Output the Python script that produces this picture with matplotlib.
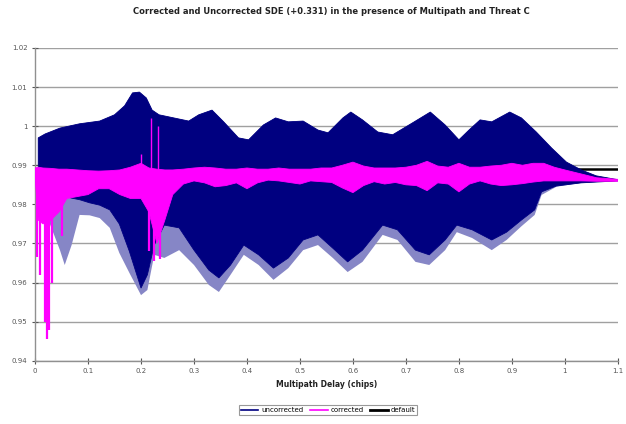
import matplotlib
matplotlib.use("Agg")
import matplotlib.pyplot as plt
import numpy as np

# ------------------------------------------
# data (SDE vs multipath delay)
# ------------------------------------------
upper_x = [0.006, 0.019, 0.047, 0.084, 0.122, 0.15, 0.169, 0.184, 0.197, 0.21, 0.221, 0.234,
           0.262, 0.29, 0.309, 0.334, 0.356, 0.384, 0.403, 0.431, 0.454, 0.478, 0.506, 0.534,
           0.553, 0.581, 0.596, 0.618, 0.647, 0.675, 0.712, 0.746, 0.774, 0.80, 0.819, 0.84,
           0.862, 0.896, 0.918, 0.946, 0.975, 1.003, 1.031, 1.059, 1.1]
uncorr_upper = [0.997, 0.998, 0.9995, 1.0006, 1.0013, 1.0029, 1.0052, 1.0085, 1.0087, 1.0072,
                1.0041, 1.0029, 1.0021, 1.0013, 1.0029, 1.0041, 1.0011, 0.997, 0.9965, 1.0003,
                1.0021, 1.0011, 1.0013, 0.999, 0.9983, 1.0021, 1.0036, 1.0016, 0.9985, 0.9978,
                1.0008, 1.0036, 1.0003, 0.9965, 0.999, 1.0016, 1.0011, 1.0036, 1.0021, 0.9985,
                0.9944, 0.9908, 0.9888, 0.9873, 0.9863]

lower_x = [0.006, 0.028, 0.047, 0.056, 0.069, 0.084, 0.103, 0.122, 0.141, 0.159, 0.178, 0.2,
           0.212, 0.225, 0.244, 0.272, 0.3, 0.328, 0.347, 0.369, 0.394, 0.422, 0.45, 0.478,
           0.506, 0.534, 0.562, 0.59, 0.618, 0.656, 0.684, 0.718, 0.744, 0.774, 0.796, 0.825,
           0.862, 0.89, 0.918, 0.943, 0.956, 0.984, 1.031, 1.1]
uncorr_lower = [0.9888, 0.9837, 0.9826, 0.9822, 0.9816, 0.9812, 0.9804, 0.9798, 0.9786, 0.975,
                0.968, 0.9586, 0.962, 0.9696, 0.9747, 0.974, 0.9683, 0.9632, 0.9612, 0.9645,
                0.9696, 0.9671, 0.9637, 0.9663, 0.9709, 0.9722, 0.9688, 0.9653, 0.9683, 0.9747,
                0.9735, 0.9683, 0.9671, 0.9709, 0.9747, 0.9735, 0.9709, 0.9729, 0.976, 0.9786,
                0.9832, 0.9847, 0.9855, 0.986]
uncorr_streaks = [0.9883, 0.975, 0.9683, 0.9645, 0.9696, 0.9773, 0.9772, 0.9765, 0.974, 0.9676,
                  0.9625, 0.9568, 0.9581, 0.9671, 0.9663, 0.9683, 0.9645, 0.9594, 0.9576, 0.962,
                  0.9671, 0.9645, 0.9607, 0.9637, 0.9683, 0.9696, 0.9663, 0.9627, 0.9653, 0.9722,
                  0.9709, 0.9653, 0.9645, 0.9683, 0.9729, 0.9714, 0.9683, 0.9709, 0.9744, 0.9773,
                  0.9824, 0.9845, 0.9855, 0.986]

corr_x = [0.0, 0.006, 0.015, 0.03, 0.045, 0.06, 0.08, 0.1, 0.12, 0.14, 0.16, 0.18, 0.2, 0.215,
          0.23, 0.245, 0.26, 0.28, 0.3, 0.32, 0.34, 0.36, 0.38, 0.4, 0.42, 0.44, 0.46, 0.48, 0.5,
          0.52, 0.54, 0.56, 0.58, 0.6, 0.62, 0.64, 0.66, 0.68, 0.7, 0.72, 0.74, 0.76, 0.78, 0.8,
          0.82, 0.84, 0.86, 0.88, 0.9, 0.92, 0.94, 0.96, 0.98, 1.0, 1.03, 1.06, 1.1]
corr_upper = [0.9893, 0.9895, 0.9893, 0.9892, 0.989, 0.989, 0.9888, 0.9886, 0.9885, 0.9886,
              0.9888, 0.9895, 0.9905, 0.9893, 0.989, 0.9888, 0.9888, 0.989, 0.9893, 0.9895,
              0.9893, 0.989, 0.989, 0.9893, 0.989, 0.989, 0.9893, 0.989, 0.989, 0.989, 0.9893,
              0.9893, 0.99, 0.9908, 0.9898, 0.9893, 0.9893, 0.9893, 0.9895, 0.99, 0.991, 0.9898,
              0.9895, 0.9905, 0.9895, 0.9895, 0.9898, 0.99, 0.9905, 0.99, 0.9905, 0.9905, 0.9895,
              0.9888, 0.9878, 0.9868, 0.9864]
corr_lower = [0.987, 0.976, 0.975, 0.976, 0.978, 0.9815, 0.982, 0.9825, 0.984, 0.984, 0.9825,
              0.9815, 0.9815, 0.978, 0.97, 0.976, 0.9825, 0.9852, 0.986, 0.9855, 0.9845, 0.9848,
              0.9855, 0.984, 0.9855, 0.9862, 0.986, 0.9856, 0.9852, 0.986, 0.9858, 0.9856,
              0.9842, 0.983, 0.9848, 0.9858, 0.9852, 0.9856, 0.985, 0.9848, 0.9835, 0.9855, 0.9852,
              0.9832, 0.9852, 0.986, 0.9852, 0.9848, 0.985, 0.9853, 0.9857, 0.986, 0.986,
              0.986, 0.986, 0.9859, 0.9859]

# single deep excursions of the corrected curve
spike_x = [0.004, 0.010, 0.018, 0.022, 0.026, 0.032, 0.05, 0.215, 0.225, 0.235]
spike_bottom = [0.9665, 0.962, 0.95, 0.9455, 0.948, 0.96, 0.972, 0.968, 0.9655, 0.966]
spike_up_x = [0.2, 0.218, 0.232]
spike_top = [0.993, 1.002, 1.0]

default_sde = 0.9891

x_ticks = [0, 0.1, 0.2, 0.3, 0.4, 0.5, 0.6, 0.7, 0.8, 0.9, 1, 1.1]
x_labels = ["0", "0.1", "0.2", "0.3", "0.4", "0.5", "0.6", "0.7", "0.8", "0.9", "1", "1.1"]
y_ticks = [0.94, 0.95, 0.96, 0.97, 0.98, 0.99, 1.0, 1.01, 1.02]
y_labels = ["0.94", "0.95", "0.96", "0.97", "0.98", "0.99", "1", "1.01", "1.02"]

NAVY = "#000080"
MAGENTA = "#ff00ff"
STREAK = "#8686c6"

fig = plt.figure(figsize=(6.26, 4.24), dpi=100)
ax = fig.add_axes([0.056, 0.149, 0.931, 0.738])

# uncorrected: light streaks below, dense dark body on top
ax.fill(np.r_[upper_x, lower_x[::-1]], np.r_[uncorr_upper, uncorr_streaks[::-1]],
        color=STREAK, lw=0, zorder=2)
ax.fill(np.r_[upper_x, lower_x[::-1]], np.r_[uncorr_upper, uncorr_lower[::-1]],
        color=NAVY, lw=0.6, zorder=3)

ax.plot([0, 1.1], [default_sde, default_sde], color="black", lw=1.8, zorder=2.5)

# corrected
ax.fill(np.r_[corr_x, corr_x[::-1]], np.r_[corr_upper, corr_lower[::-1]],
        color=MAGENTA, lw=0.6, zorder=4)
ax.vlines(spike_x, spike_bottom, [0.986] * len(spike_x), color=MAGENTA, lw=1.6, zorder=4)
ax.vlines(spike_up_x, [0.988] * len(spike_up_x), spike_top, color=MAGENTA, lw=1.0, zorder=4)

ax.set_xlim(0, 1.1)
ax.set_ylim(0.94, 1.02)
ax.set_xticks(x_ticks)
ax.set_xticklabels(x_labels)
ax.set_yticks(y_ticks)
ax.set_yticklabels(y_labels)
ax.tick_params(axis="both", labelsize=5, colors="#555555", length=4, direction="inout", width=0.8)
ax.grid(axis="y", color="#a0a0a0", lw=1.0, zorder=0)
ax.set_axisbelow(True)
for side in ["top", "right"]:
    ax.spines[side].set_visible(False)
for side in ["left", "bottom"]:
    ax.spines[side].set_color("#909090")
    ax.spines[side].set_linewidth(1.0)

ax.set_xlabel("Multipath Delay (chips)", fontsize=5.5, fontweight="bold", labelpad=4, color="#222222")
fig.text(0.53, 0.972, "Corrected and Uncorrected SDE (+0.331) in the presence of Multipath and Threat C",
         ha="center", va="center", fontsize=6, fontweight="bold", color="#222222")

handles = [plt.Line2D([], [], color=NAVY, lw=1.2),
           plt.Line2D([], [], color=MAGENTA, lw=1.2),
           plt.Line2D([], [], color="black", lw=2.0)]
leg = fig.legend(handles, ["uncorrected", "corrected", "default"], loc="center",
                 bbox_to_anchor=(0.524, 0.033), ncol=3, fontsize=5, frameon=True,
                 fancybox=False, handlelength=2.5, columnspacing=1.0, borderpad=0.3,
                 handletextpad=0.4)
leg.get_frame().set_edgecolor("#808080")
leg.get_frame().set_linewidth(0.8)

fig.savefig("out.png", dpi=100)
